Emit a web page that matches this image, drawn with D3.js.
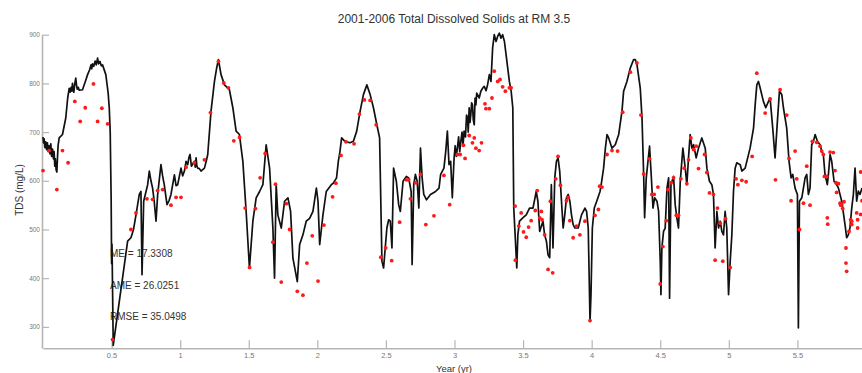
<!DOCTYPE html>
<html>
<head>
<meta charset="utf-8">
<script src="https://cdn.jsdelivr.net/npm/d3@7"></script>
<style>
  html, body { margin: 0; padding: 0; background: #fff; }
  svg { display: block; }
</style>
</head>
<body>
<svg id="chart" width="862" height="373"></svg>
<script>
// ---- data ----
const titleText = "2001-2006 Total Dissolved Solids at RM 3.5";
const xLabelText = "Year (yr)";
const yLabelText = "TDS (mg/L)";
const statsLines = ["ME = 17.3308", "AME = 26.0251", "RMSE = 35.0498"];
const xTicks = [0.5, 1, 1.5, 2, 2.5, 3, 3.5, 4, 4.5, 5, 5.5];
const yTicks = [300, 400, 500, 600, 700, 800, 900];

// simulated (model) series
const modelYears = [
0.000,0.004,0.008,0.014,0.020,0.026,0.032,0.038,0.045,0.051,0.057,0.063,0.070,0.076,0.081,0.086,0.090,0.096,0.101,0.106,0.110,0.118,
0.142,0.166,0.180,
0.191,0.198,0.205,0.210,0.215,0.220,0.225,0.232,0.239,0.245,0.250,0.257,0.264,
0.288,0.310,0.325,
0.340,0.350,0.355,0.361,0.370,0.380,0.388,0.398,0.405,0.415,0.425,0.434,
0.458,0.475,0.483,0.490,0.497,0.500,0.503,0.507,0.512,0.617,0.641,0.660,0.678,0.702,0.714,0.722,0.734,0.763,0.775,0.787,0.799,0.810,0.824,0.836,0.860,0.872,0.884,0.904,0.920,0.933,0.958,0.970,0.982,
1.006,1.018,1.031,1.043,1.055,1.064,1.072,1.082,1.091,1.104,1.110,1.116,1.122,1.128,
1.140,1.152,1.177,1.190,1.201,1.225,1.250,1.265,1.279,1.298,1.323,1.359,1.384,1.408,1.432,1.457,1.481,1.505,1.530,1.554,1.579,1.603,1.627,1.652,1.676,1.688,1.700,1.712,1.737,1.761,1.786,1.805,1.822,1.854,1.871,1.895,1.919,1.944,1.968,1.993,2.005,2.017,2.041,2.065,2.102,
2.116,2.140,2.153,2.165,2.177,2.201,2.238,2.263,2.287,2.312,2.336,2.361,2.385,2.409,2.434,2.454,2.471,2.483,2.507,2.520,2.532,2.544,2.556,2.576,2.593,2.605,2.625,2.649,2.666,2.684,2.691,2.703,2.715,2.728,2.740,2.752,2.764,2.776,2.796,2.825,2.862,2.887,2.899,2.923,2.936,2.948,2.960,2.972,2.984,
2.997,3.005,3.013,3.021,3.030,3.038,3.046,3.055,3.062,3.070,3.080,3.088,3.095,3.100,3.107,3.113,3.119,3.125,3.131,3.137,3.144,3.150,3.156,3.162,3.168,3.180,3.192,3.205,3.217,3.230,3.241,
3.254,3.266,3.278,3.290,3.303,3.315,3.327,3.339,3.351,3.364,3.376,3.400,3.413,3.425,3.432,3.442,3.454,3.462,3.474,3.498,3.523,3.547,3.572,3.596,3.608,3.621,3.645,3.657,3.670,3.682,3.694,3.706,3.718,3.731,3.743,3.755,3.767,3.780,3.792,3.804,3.816,3.829,3.841,3.853,3.865,3.878,3.902,3.926,3.951,3.963,3.975,3.988,3.995,4.005,4.019,4.037,4.061,4.073,
4.087,4.100,4.112,4.124,4.148,4.172,4.197,4.221,4.233,4.257,4.282,4.306,4.318,4.330,4.354,4.367,4.379,4.386,4.398,4.422,4.434,4.447,4.459,4.476,4.488,4.500,4.505,4.512,4.524,4.536,4.549,4.561,4.568,4.578,4.597,4.609,4.621,4.633,4.646,4.665,4.682,4.694,4.706,4.718,4.731,4.743,4.762,4.779,4.803,4.828,4.840,4.859,4.876,4.888,4.900,4.913,4.925,4.937,4.949,4.961,4.973,4.985,4.998,5.010,5.022,5.034,5.046,5.058,5.083,5.095,5.119,5.155,5.180,5.192,5.204,5.216,5.228,5.252,5.269,5.289,5.301,5.320,5.337,5.354,5.369,5.386,5.398,5.422,5.439,5.454,5.466,5.483,5.500,5.507,5.515,5.532,5.556,5.568,5.580,5.592,5.604,5.617,5.629,5.646,5.665,5.677,5.689,5.701,5.718,5.726,5.738,5.750,5.767,5.786,5.799,5.823,5.847,5.859,5.871,5.883,5.896,5.908,5.920,5.932,5.944,5.956,5.971];
const modelTDS = [
690,678,686,668,680,664,678,660,672,655,676,650,665,645,660,630,645,622,618,650,672,688,
695,729,770,
790,782,792,784,800,786,782,800,811,795,788,792,786,
787,805,818,
828,838,830,840,835,846,838,852,840,845,836,838,
818,780,750,700,560,430,470,380,262,476,483,500,530,572,578,407,558,592,620,600,585,560,517,572,633,610,592,551,560,572,612,590,592,
626,610,620,640,633,648,654,630,634,640,628,647,630,626,
625,620,626,640,654,743,804,830,849,818,797,787,750,702,695,640,537,421,517,565,578,592,674,626,503,400,592,530,503,558,565,537,441,393,469,489,517,523,537,585,558,469,530,578,592,
595,606,640,660,688,681,678,681,702,743,777,797,777,750,715,688,435,421,503,520,517,462,626,599,551,537,599,609,606,578,428,592,613,599,544,667,606,572,561,572,578,585,613,626,660,702,633,640,565,
647,672,650,667,690,660,681,700,672,702,690,735,729,700,750,720,736,760,756,725,715,770,756,780,777,770,784,790,794,785,797,
818,804,873,900,886,897,903,893,900,886,859,804,784,750,544,489,421,489,517,524,530,544,544,578,558,496,517,489,476,448,442,592,462,606,640,647,620,558,503,530,565,572,558,530,510,503,503,530,544,537,503,311,366,503,544,558,578,599,
626,667,695,688,667,674,695,743,784,804,832,849,849,839,791,729,613,524,606,671,613,544,565,558,537,435,366,462,496,503,585,606,359,592,609,551,524,503,599,667,626,592,647,695,667,674,647,667,688,667,626,599,592,572,462,537,503,517,496,489,537,503,366,435,489,578,626,637,633,620,626,667,708,756,797,804,791,763,750,763,770,708,647,722,784,777,750,708,640,606,613,585,572,298,558,565,606,613,572,585,674,681,695,681,674,661,654,613,592,613,654,640,599,592,585,558,510,483,489,503,544,572,626,558,579,572,585];

// observed samples
const obsYears = [
0.000,0.045,0.101,0.142,0.183,0.232,0.271,0.308,0.368,0.398,0.429,0.471,0.507,0.641,0.678,0.758,0.799,0.836,0.872,0.933,0.970,1.006,1.043,1.104,1.177,1.221,1.279,1.318,1.352,1.391,1.433,1.474,1.506,1.549,1.583,1.620,1.676,1.695,1.737,1.774,1.798,1.854,1.895,1.924,1.963,2.005,2.048,
2.111,2.135,2.172,2.209,2.268,2.307,2.343,2.385,2.429,2.463,2.498,2.542,2.600,2.649,2.666,2.679,2.718,2.752,2.791,2.850,2.923,2.965,3.021,3.041,3.065,3.077,3.107,3.131,3.144,3.156,3.180,3.197,3.222,3.229,3.254,3.273,3.290,3.315,3.332,3.351,3.371,3.400,3.413,3.442,3.444,3.469,3.486,3.503,3.523,3.540,3.559,3.589,3.603,3.621,3.633,3.638,3.657,3.682,3.699,3.716,3.738,3.755,3.772,3.816,3.829,3.841,3.865,3.890,3.914,3.951,3.988,4.024,4.049,
4.058,4.075,4.112,4.148,4.189,4.226,4.282,4.330,4.359,4.379,4.422,4.439,4.456,4.483,4.500,4.519,4.544,4.556,4.580,4.597,4.617,4.633,4.650,4.675,4.694,4.706,4.723,4.743,4.762,4.779,4.823,4.840,4.859,4.888,4.900,4.917,4.937,4.956,4.976,5.010,5.053,5.066,5.095,5.126,5.170,5.204,5.265,5.301,5.340,5.374,5.422,5.439,5.454,5.483,5.495,5.515,5.544,5.568,5.592,5.609,5.641,5.665,5.677,5.689,5.697,5.714,5.718,5.721,5.738,5.762,5.774,5.782,5.786,5.799,5.811,5.816,5.823,5.830,5.840,5.854,5.854,5.859,5.876,5.888,5.896,5.896,5.932,5.939,5.939,5.961,5.961,5.971];
const obsTDS = [
621,662,582,662,637,763,722,750,799,722,749,717,274,500,534,563,562,580,582,550,566,566,628,637,643,740,845,801,791,682,689,544,422,543,606,656,474,593,392,553,500,373,365,431,487,394,509,
567,595,652,680,676,737,766,765,715,443,462,436,515,602,602,563,596,613,510,528,611,551,654,654,673,646,693,678,688,667,662,678,758,748,748,770,825,804,808,793,784,791,791,548,437,507,534,495,484,505,518,539,580,524,537,520,489,418,558,411,604,650,591,559,566,518,483,507,489,517,313,529,541,
589,587,654,662,661,741,823,842,735,614,645,572,572,587,388,465,518,582,596,606,529,529,604,626,594,643,688,664,671,625,654,617,575,572,437,544,513,435,522,422,604,592,601,598,650,821,739,768,602,787,735,646,559,661,604,500,554,630,550,681,679,671,661,654,609,609,524,511,659,658,621,596,576,594,554,550,551,543,557,462,431,414,496,520,517,510,534,520,503,618,531,559];

// ---- layout ----
const svg = d3.select("#chart");
const x = d3.scaleLinear().domain([0, 6]).range([43, 866]);
const y = d3.scaleLinear().domain([256, 900]).range([348.3, 34.7]);
const axisColor = "#b5b5b5";
const font = "'Liberation Sans', Arial, sans-serif";

// title
svg.append("text")
  .attr("x", 454).attr("y", 23)
  .attr("text-anchor", "middle")
  .attr("font-family", font).attr("font-size", 12)
  .attr("fill", "#333")
  .text(titleText);

// axes
const gx = svg.append("g").attr("transform", `translate(0,${y.range()[0]})`)
  .call(d3.axisBottom(x).tickValues(xTicks).tickFormat(d3.format("~g"))
    .tickSize(-8).tickSizeOuter(0).tickPadding(4));
const gy = svg.append("g").attr("transform", `translate(${x.range()[0] - 1},0)`)
  .call(d3.axisLeft(y).tickValues(yTicks).tickFormat(d3.format("d"))
    .tickSize(-7).tickSizeOuter(0).tickPadding(2));
[gx, gy].forEach(g => {
  g.select(".domain").attr("stroke", axisColor).attr("stroke-width", 1.6);
  g.selectAll(".tick line").attr("stroke", axisColor).attr("stroke-width", 1.2);
  g.selectAll(".tick text").attr("fill", "#777").attr("font-family", font);
});
gx.selectAll(".tick text").attr("font-size", 7.5);
gy.selectAll(".tick text").attr("font-size", 6.5);

// axis labels
svg.append("text")
  .attr("x", 454).attr("y", 372)
  .attr("text-anchor", "middle")
  .attr("font-family", font).attr("font-size", 9.5).attr("fill", "#333")
  .text(xLabelText);
svg.append("text")
  .attr("transform", "translate(23,190) rotate(-90)")
  .attr("text-anchor", "middle")
  .attr("font-family", font).attr("font-size", 10).attr("fill", "#333")
  .text(yLabelText);

// stats text
svg.append("g").selectAll("text").data(statsLines).join("text")
  .attr("x", 110)
  .attr("y", (d, i) => 257 + i * 31.5)
  .attr("font-family", font).attr("font-size", 10).attr("fill", "#333")
  .text(d => d);

// model line
const modelData = modelYears.map((t, i) => [t, modelTDS[i]]);
svg.append("path")
  .datum(modelData)
  .attr("fill", "none")
  .attr("stroke", "#111")
  .attr("stroke-width", 1.7)
  .attr("stroke-linejoin", "round")
  .attr("d", d3.line().x(d => x(d[0])).y(d => y(d[1])));

// observed dots
const obsData = obsYears.map((t, i) => [t, obsTDS[i]]);
svg.append("g").selectAll("circle").data(obsData).join("circle")
  .attr("cx", d => x(d[0]))
  .attr("cy", d => y(d[1]))
  .attr("r", 1.9)
  .attr("fill", "#ff1a1a");
</script>
</body>
</html>
